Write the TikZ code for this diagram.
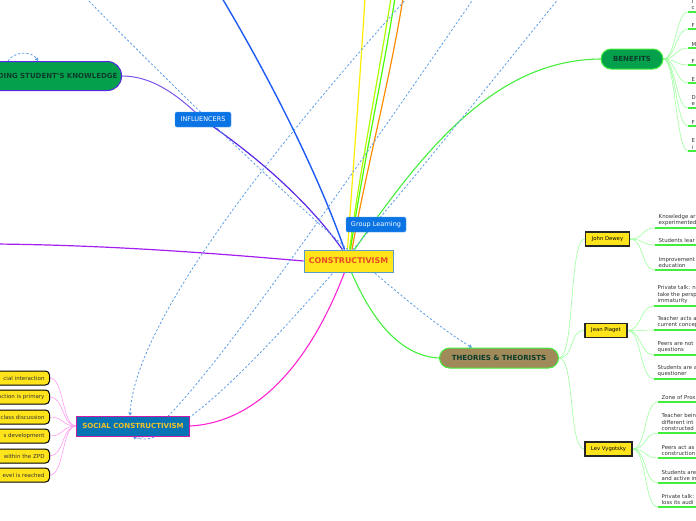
\documentclass[tikz,border=0pt]{standalone}
\usepackage{fontspec}
\setmainfont{DejaVu Sans}
\usetikzlibrary{positioning, arrows.meta, backgrounds, calc}
\definecolor{cmyellow}{HTML}{FFE41C}
\definecolor{cmroottext}{HTML}{EA4A24}
\definecolor{cmrootline}{HTML}{5A9CC8}
\definecolor{cmblue}{HTML}{0A74E4}
\definecolor{cmgreen}{HTML}{05A04C}
\definecolor{cmdark}{HTML}{0B3B2B}
\definecolor{cmbrown}{HTML}{A08A5A}
\definecolor{cmsocial}{HTML}{0674B4}
\definecolor{cmgold}{HTML}{F2C12A}
\definecolor{cmlime}{HTML}{44EE3C}
\definecolor{cmleafline}{HTML}{9CFF9C}
\definecolor{cmpink}{HTML}{FF9CF0}
\definecolor{cmmagenta}{HTML}{FF24D4}
\definecolor{cmviolet}{HTML}{5A28E6}
\definecolor{cmpurple}{HTML}{A41EF0}
\definecolor{cmrel}{HTML}{5A9CE6}
\definecolor{cmtext}{HTML}{333333}
\definecolor{cmbranchblue}{HTML}{1E5AF5}

\begin{document}
\begin{tikzpicture}[x=1pt, y=-1pt,
    bluetag/.style={fill=cmblue, draw=cmblue!70!white, rounded corners=1.5pt,
      text=white, font=\fontsize{6.5}{7.5}\selectfont, minimum height=15pt, inner xsep=2pt},
    pill/.style={rounded corners=10pt, line width=1pt, minimum height=20pt,
      font=\bfseries\fontsize{7}{8}\selectfont},
    theorist/.style={fill=cmyellow, draw=black!85, line width=1.3pt,
      minimum height=14pt, font=\fontsize{5.3}{6.5}\selectfont},
    leaf/.style={anchor=south west, align=left, inner xsep=3.5pt, inner ysep=1.8pt,
      text=cmtext, font=\fontsize{5.4}{6.7}\selectfont},
    socleaf/.style={anchor=east, fill=cmyellow, draw=black, line width=1pt,
      rounded corners=4pt, text width=90pt, align=right, minimum height=14pt,
      inner xsep=5pt, inner ysep=0pt, text=cmtext, font=\fontsize{5.5}{7}\selectfont},
    branch/.style={cmleafline, line width=0.6pt},
    pinkbranch/.style={cmpink, line width=0.6pt},
    underl/.style={cmlime, line width=1.1pt},
    relline/.style={cmrel, line width=0.8pt, dash pattern=on 2.2pt off 2pt,
      -{Triangle[length=3pt,width=3.6pt]}}]
  \useasboundingbox (0,0) rectangle (696,520);

  % Central topic
  \node[fill=cmyellow, draw=cmrootline, line width=0.8pt, minimum width=89pt,
        minimum height=22pt, inner xsep=2pt, text=cmroottext, font=\bfseries\fontsize{7.9}{9}\selectfont]
        (root) at (348.5,261) {CONSTRUCTIVISM};
  \node[bluetag, minimum width=60pt] (grp) at (376,224.5) {Group Learning};
  \node[bluetag, minimum width=56pt] (infl) at (203,119.5) {INFLUENCERS};

  % Main topics
  \node[pill, anchor=east, fill=cmgreen, draw=cmviolet, rounded corners=14pt,
        minimum height=29pt, text width=170pt, align=right, inner xsep=4pt, text=cmdark]
        (kn) at (122,76) {SCAFFOLDING STUDENT'S KNOWLEDGE};
  \node[pill, fill=cmgreen, draw=cmlime, minimum width=62pt, text=cmdark]
        (ben) at (632,59) {BENEFITS};
  \node[pill, fill=cmbrown, draw=cmlime, minimum width=119pt, inner xsep=4pt, text=cmdark]
        (the) at (499,358) {THEORIES \& THEORISTS};
  \node[fill=cmsocial, draw=cmmagenta!80!black, line width=1pt, minimum width=113pt,
        minimum height=20pt, inner xsep=2pt, text=cmgold, font=\bfseries\fontsize{7}{8}\selectfont]
        (soc) at (133,426) {SOCIAL CONSTRUCTIVISM};

  % Theorists
  \node[theorist, minimum width=44pt] (dewey) at (607.5,239) {John Dewey};
  \node[theorist, minimum width=42pt] (piaget) at (606,330.5) {Jean Piaget};
  \node[theorist, minimum width=47pt] (vygotsky) at (608.5,449) {Lev Vygotsky};

  % Benefits
  \node[leaf] (b1) at (688,12) {I\\c};
  \node[leaf] (b2) at (688,29) {F};
  \node[leaf] (b3) at (688,48) {M};
  \node[leaf] (b4) at (688,65) {F};
  \node[leaf] (b5) at (688,83) {E};
  \node[leaf] (b6) at (688,108) {D\\e};
  \node[leaf] (b7) at (688,126) {F};
  \node[leaf] (b8) at (688,151) {E\\i};

  % Dewey
  \node[leaf] (d1) at (655,228) {Knowledge ar\\experimented};
  \node[leaf] (d2) at (655,245) {Students lear};
  \node[leaf] (d3) at (655,270) {Improvement\\education};

  % Piaget
  \node[leaf] (p1) at (654,306) {Private talk: n\\take the persp\\immaturity};
  \node[leaf] (p2) at (654,330) {Teacher acts a\\current concep};
  \node[leaf] (p3) at (654,355) {Peers are not\\questions};
  \node[leaf] (p4) at (654,379) {Students are a\\questioner};

  % Vygotsky
  \node[leaf] (v1) at (658,402) {Zone of Prox};
  \node[leaf] (v2) at (658,433) {Teacher bein\\different int\\constructed};
  \node[leaf] (v3) at (658,458) {Peers act as\\construction};
  \node[leaf] (v4) at (658,483) {Students are\\and active in};
  \node[leaf] (v5) at (658,507) {Private talk:\\loss its audi};

  % Social constructivism
  \node[socleaf] (s1) at (50,378) {cial interaction};
  \node[socleaf] (s2) at (50,397) {action is primary};
  \node[socleaf] (s3) at (50,417) {class discussion};
  \node[socleaf] (s4) at (50,436) {s development};
  \node[socleaf] (s5) at (50,456) {within the ZPD};
  \node[socleaf] (s6) at (50,475) {evel is reached};

  % free ends off the page
  \coordinate (blueend) at (222,-2);
  \coordinate (yelend) at (365,-2);
  \coordinate (limeend) at (391,-2);
  \coordinate (grnend) at (395,-2);
  \coordinate (orgend) at (403,-2);
  \coordinate (purend) at (-5,244);
  \coordinate (relA) at (86,-2);
  \coordinate (relB) at (407,-2);
  \coordinate (relC) at (474,-2);
  \coordinate (relD) at (559,-2);

  \begin{scope}[on background layer]
    % branches out of the centre
    \draw[color=cmbranchblue, line width=1.4pt] ([xshift=-4pt]root.north) .. controls (315,165) and (262,65) .. (blueend);
    \draw[color=yellow!95!orange, line width=1.2pt] ([xshift=-1pt]root.north) .. controls (353,170) and (360,80) .. (yelend);
    \draw[color=lime!90!green, line width=1.2pt] ([xshift=1pt]root.north) .. controls (360,170) and (378,80) .. (limeend);
    \draw[color=green!60!lime, line width=1.2pt] ([xshift=2pt]root.north) .. controls (362,170) and (382,80) .. (grnend);
    \draw[color=orange!90!yellow, line width=1.2pt] ([xshift=3.5pt]root.north) .. controls (366,170) and (390,80) .. (orgend);
    \draw[color=cmlime, line width=1.1pt] ([xshift=6pt]root.north) .. controls (430,140) and (500,60) .. (ben.west);
    \draw[color=cmviolet, line width=1.2pt] ([xshift=-6pt]root.north) .. controls (300,190) and (240,145) .. (infl.center);
    \draw[color=cmviolet!80!white, line width=1pt] (infl.center) .. controls (175,92) and (150,76) .. (kn.east);
    \draw[color=cmpurple, line width=1.2pt] (root.west) .. controls (200,252) and (100,245) .. (purend);
    \draw[color=cmmagenta, line width=1.1pt] ([xshift=-4pt]root.south) .. controls (315,350) and (265,422) .. (soc.east);
    \draw[color=cmlime, line width=1.1pt] ([xshift=3pt]root.south) .. controls (372,320) and (400,356) .. (the.west);

    % relationships
    \draw[relline] (relA) .. controls (220,135) and (400,305) .. ([xshift=-27pt]the.north);
    \draw[relline] (relB) .. controls (280,140) and (135,320) .. ([xshift=-3pt]soc.north);
    \draw[relline] (relC) .. controls (300,250) and (160,450) .. (soc.south);
    \draw[relline] (relD) .. controls (380,220) and (190,460) .. (soc.south);
    \draw[relline] ([xshift=-114pt]kn.north east) .. controls +(6,-10) and +(-6,-10) .. ([xshift=-84pt]kn.north east);

    % sub branches
    \foreach \t in {dewey, piaget, vygotsky}
      \draw[branch] (the.east) .. controls +(16,0) and +(-16,0) .. (\t.west);
    \foreach \n in {b1,b2,b3,b4,b5,b6,b7,b8}
      \draw[branch] (ben.east) .. controls +(12,0) and +(-12,0) .. (\n.south west);
    \foreach \n in {d1,d2,d3}
      \draw[branch] (dewey.east) .. controls +(14,0) and +(-14,0) .. (\n.south west);
    \foreach \n in {p1,p2,p3,p4}
      \draw[branch] (piaget.east) .. controls +(14,0) and +(-14,0) .. (\n.south west);
    \foreach \n in {v1,v2,v3,v4,v5}
      \draw[branch] (vygotsky.east) .. controls +(14,0) and +(-14,0) .. (\n.south west);
    \foreach \n in {b1,b2,b3,b4,b5,b6,b7,b8,d1,d2,d3,p1,p2,p3,p4,v1,v2,v3,v4,v5}
      \draw[underl] (\n.south west) -- ++(60,0);
    \foreach \n in {s1,s2,s3,s4,s5,s6}
      \draw[pinkbranch] (soc.west) .. controls +(-14,0) and +(14,0) .. (\n.east);
  \end{scope}
\end{tikzpicture}
\end{document}
